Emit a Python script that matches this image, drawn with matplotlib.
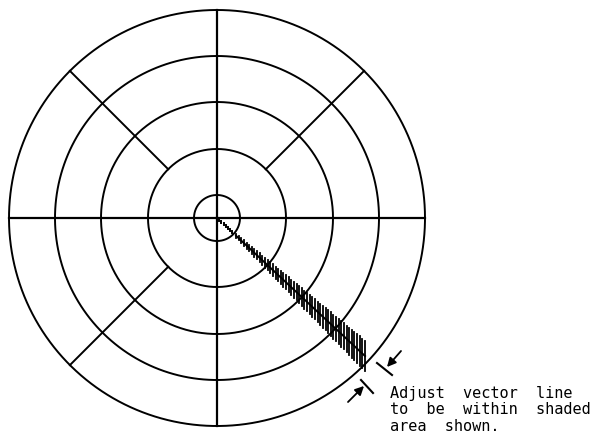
import numpy as np
import matplotlib.pyplot as plt

# ring radii and spokes (pixels from centre)
ring_radii = [23, 69, 116, 162, 208]
full_spokes = [0, 90, 180, 270]          # from centre to outer ring
diag_spokes = [45, 135, 225]             # from 2nd ring to outer ring
diag_start = 69

# vector and its tolerance band
vector_angle = -43
band_r = np.arange(26, 206, 3.6)
band_half = 0.075 * band_r
dot_r = np.arange(3, 24, 3.0)

note = ["Adjust  vector  line", "to  be  within  shaded", "area  shown."]

fig = plt.figure(figsize=(5.95, 4.39), dpi=100)
ax = fig.add_axes([0, 0, 1, 1])
ax.set_xlim(-217, 378)
ax.set_ylim(-220, 219)
ax.axis("off")

t = np.linspace(0, 2 * np.pi, 400)
for r in ring_radii:
    ax.plot(r * np.cos(t), r * np.sin(t), color="black", lw=1.4)

R = ring_radii[-1]
for a in full_spokes:
    ax.plot([0, R * np.cos(np.radians(a))], [0, R * np.sin(np.radians(a))],
            color="black", lw=1.6)
for a in diag_spokes:
    c, s = np.cos(np.radians(a)), np.sin(np.radians(a))
    ax.plot([diag_start * c, R * c], [diag_start * s, R * s], color="black", lw=1.4)

# shaded band: vertical hatch lines along the vector
c, s = np.cos(np.radians(vector_angle)), np.sin(np.radians(vector_angle))
for r, h in zip(band_r, band_half):
    ax.plot([r * c, r * c], [r * s - h, r * s + h], color="black", lw=1.3)
for r in dot_r:
    ax.plot([r * c, r * c], [r * s - 1, r * s + 1], color="black", lw=1.4)
ax.plot([band_r[0] * c, band_r[-1] * c], [band_r[0] * s, band_r[-1] * s],
        color="black", lw=1.4)

# dimension arrows at the outer ring
arrow = dict(arrowstyle="-|>", color="black", lw=1.3,
             mutation_scale=13, shrinkA=0, shrinkB=0)
ax.annotate("", xy=(170, -149), xytext=(184, -133), arrowprops=arrow)
ax.plot([160, 175], [-145, -157], color="black", lw=1.5)
ax.annotate("", xy=(147, -168), xytext=(131, -184), arrowprops=arrow)
ax.plot([144, 156], [-162, -175], color="black", lw=1.5)

ax.text(173, -167, "\n".join(note), fontsize=11, ha="left", va="top",
        family="DejaVu Sans Mono", linespacing=1.12)

fig.savefig("out.png", dpi=100)
